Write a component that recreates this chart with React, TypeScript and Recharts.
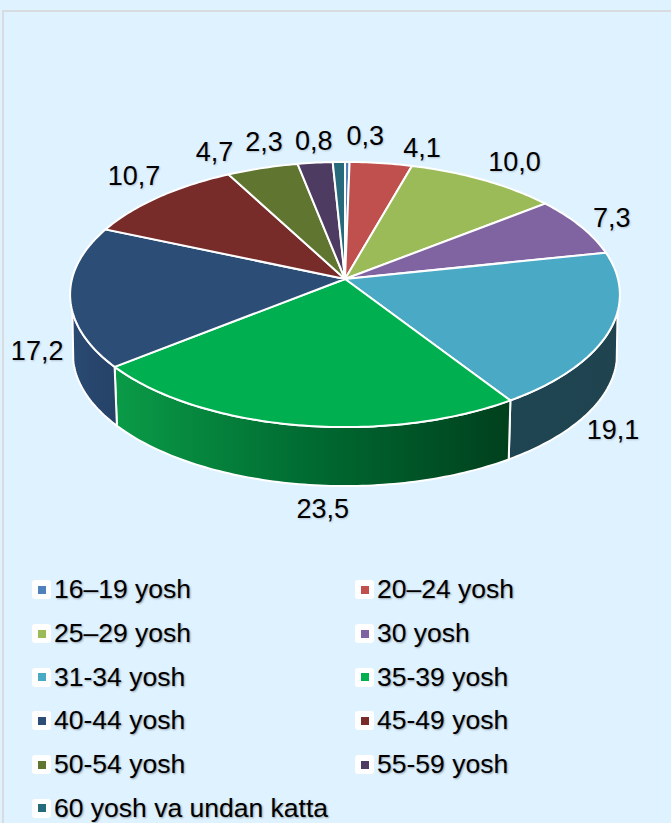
import { Legend, Pie, PieChart } from "recharts";

const AGE_GROUPS = [
  "16–19 yosh",
  "20–24 yosh",
  "25–29 yosh",
  "30 yosh",
  "31-34 yosh",
  "35-39 yosh",
  "40-44 yosh",
  "45-49 yosh",
  "50-54 yosh",
  "55-59 yosh",
  "60 yosh va undan katta",
];
const SHARES = [0.3, 4.1, 10.0, 7.3, 19.1, 23.5, 17.2, 10.7, 4.7, 2.3, 0.8];

const COLORS = [
  "#4f81bd",
  "#c0504d",
  "#9bbb59",
  "#8064a2",
  "#4aaac6",
  "#00b050",
  "#2c4d75",
  "#772c2a",
  "#5f7530",
  "#4d3b62",
  "#276a7c",
];

// side wall gradients, only the slices facing the viewer have one
const WALL_STOPS: Record<number, string[]> = {
  4: ["#1f4552", "#1f4450"],
  5: ["#0a9b47", "#006a31", "#00401d"],
  6: ["#2a4a73", "#254166"],
};

// label nudges from the rim point of each slice
const LABEL_NUDGE = [
  [18, -26],
  [41, -15],
  [31, -18],
  [31, -8],
  [4, 99],
  [27, 84],
  [-33, 55],
  [-25, -21],
  [-48, -16],
  [-51, -21],
  [-25, -21],
];

const TILT = 0.479;
const PERSPECTIVE = 0.117;
const DEPTH = 59;
const BOTTOM_SCALE = 0.99;
const WALL_TOP = [104, 256];
const WALL_BOTTOM = [100, 260];

const pieData = AGE_GROUPS.map((name, i) => ({
  name,
  value: SHARES[i],
  fill: COLORS[i],
}));

// circle angle (clockwise from 12 o'clock) to a point on the tilted disc
function project(cx: number, cy: number, r: number, deg: number, xScale = 1) {
  const a = (deg * Math.PI) / 180;
  const w = 1 + PERSPECTIVE * Math.cos(a);
  return [cx + (r * xScale * Math.sin(a)) / w, cy - (r * TILT * Math.cos(a)) / w];
}

function rim(cx: number, cy: number, r: number, from: number, to: number, xScale = 1) {
  const pts: number[][] = [];
  const steps = Math.max(2, Math.ceil(Math.abs(to - from)));
  for (let i = 0; i <= steps; i++) {
    pts.push(project(cx, cy, r, from + ((to - from) * i) / steps, xScale));
  }
  return pts;
}

const toPath = (pts: number[][]) =>
  pts.map((p, i) => `${i ? "L" : "M"}${p[0].toFixed(2)} ${p[1].toFixed(2)}`).join(" ");

function Slice(props: any) {
  const { cx, cy, outerRadius, startAngle, endAngle, fill } = props;
  const index = COLORS.indexOf(fill);
  const from = 90 - startAngle;
  const to = 90 - endAngle;
  const stops = WALL_STOPS[index];

  let wall = null;
  if (stops) {
    const top = rim(cx, cy, outerRadius, Math.max(from, WALL_TOP[0]), Math.min(to, WALL_TOP[1]));
    const bottom = rim(
      cx,
      cy + DEPTH,
      outerRadius,
      Math.min(to, WALL_BOTTOM[1]),
      Math.max(from, WALL_BOTTOM[0]),
      BOTTOM_SCALE,
    );
    wall = (
      <>
        <defs>
          <linearGradient id={`wall-${index}`} x1="0" y1="0" x2="1" y2="0">
            {stops.map((c, i) => (
              <stop key={i} offset={i / (stops.length - 1)} stopColor={c} />
            ))}
          </linearGradient>
        </defs>
        <path
          d={toPath([...top, ...bottom]) + " Z"}
          fill={`url(#wall-${index})`}
          stroke="#fff"
          strokeWidth={2}
        />
      </>
    );
  }

  return (
    <g>
      {wall}
      <path
        d={toPath([[cx, cy], ...rim(cx, cy, outerRadius, from, to)]) + " Z"}
        fill={fill}
        stroke="#fff"
        strokeWidth={2}
      />
    </g>
  );
}

function SliceLabel(props: any) {
  const { cx, cy, outerRadius, midAngle, index, value } = props;
  const [x, y] = project(cx, cy, outerRadius, 90 - midAngle);
  return (
    <text
      x={x + LABEL_NUDGE[index][0]}
      y={y + LABEL_NUDGE[index][1]}
      textAnchor="middle"
      dominantBaseline="central"
      fontSize={27}
      fill="#000"
      style={{ textShadow: "1px 1px 2px rgba(0,0,0,0.2)" }}
    >
      {value.toFixed(1).replace(".", ",")}
    </text>
  );
}

function AgeLegend() {
  return (
    <div
      style={{
        display: "grid",
        gridTemplateColumns: "323px 300px",
        gridAutoRows: "43.7px",
        alignItems: "center",
      }}
    >
      {AGE_GROUPS.map((name, i) => (
        <div key={name} style={{ display: "flex", alignItems: "center", whiteSpace: "nowrap" }}>
          <span
            style={{
              width: 19,
              height: 19,
              borderRadius: 3,
              background: "#fff",
              display: "flex",
              alignItems: "center",
              justifyContent: "center",
              marginRight: 3,
            }}
          >
            <span style={{ width: 8, height: 8, background: COLORS[i] }} />
          </span>
          <span
            style={{
              fontFamily: "'Liberation Sans', Arial, sans-serif",
              fontSize: 26.5,
              color: "#000",
              textShadow: "1px 1px 2px rgba(0,0,0,0.35)",
            }}
          >
            {name}
          </span>
        </div>
      ))}
    </div>
  );
}

export default function App() {
  return (
    <div
      style={{
        position: "absolute",
        left: 0,
        top: 0,
        width: 671,
        height: 823,
        overflow: "hidden",
        background: "#dff2ff",
      }}
    >
      <div
        style={{
          position: "absolute",
          left: 2,
          top: 10,
          width: 669,
          height: 813,
          borderLeft: "2px solid #d8dcdf",
          borderTop: "2px solid #d8dcdf",
        }}
      />
      <PieChart
        width={671}
        height={823}
        margin={{ top: 0, right: 0, bottom: 0, left: 0 }}
        style={{ fontFamily: "'Liberation Sans', Arial, sans-serif" }}
      >
        <Pie
          data={pieData}
          dataKey="value"
          nameKey="name"
          cx={345}
          cy={279}
          outerRadius={273}
          startAngle={90}
          endAngle={-270}
          stroke="#fff"
          shape={Slice}
          label={SliceLabel}
          labelLine={false}
          isAnimationActive={false}
        />
        <Legend
          content={<AgeLegend />}
          wrapperStyle={{ position: "absolute", left: 32, top: 568, width: 630, bottom: "auto" }}
        />
      </PieChart>
    </div>
  );
}
